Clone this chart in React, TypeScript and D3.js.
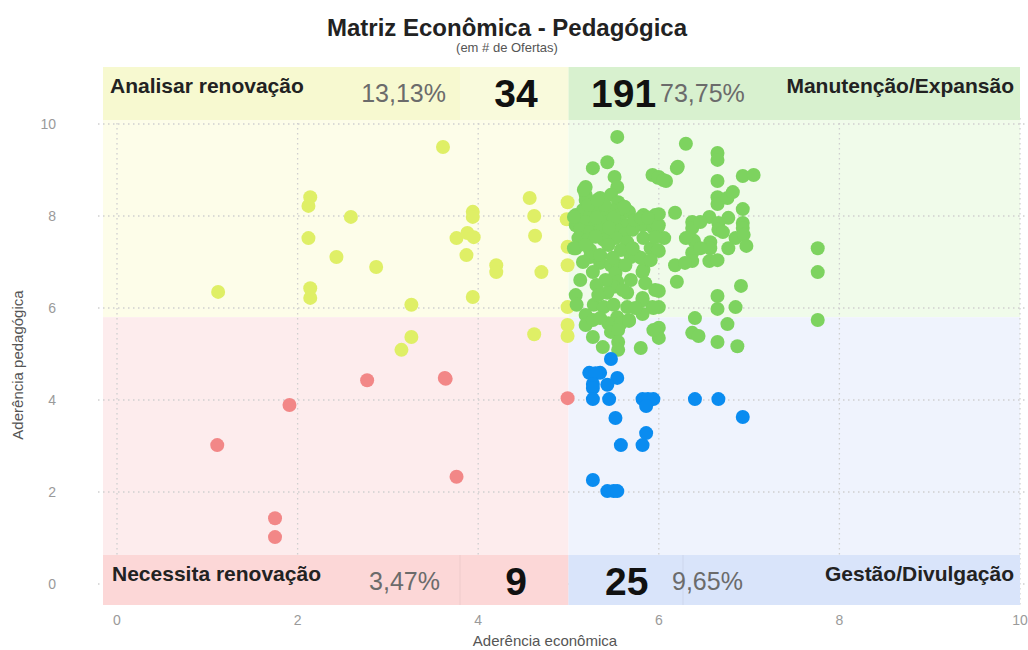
import * as d3 from 'd3'
import { useEffect, useRef } from 'react'

// eixos
const xTicks = [0, 2, 4, 6, 8, 10]
const yTicks = [0, 2, 4, 6, 8, 10]
const cutX = 5
const cutY = 5.8

// quadrantes: [nome, ofertas, percentual]
const quadrantNames = ['Analisar renovação', 'Manutenção/Expansão', 'Necessita renovação', 'Gestão/Divulgação']
const quadrantCounts = [34, 191, 9, 25]
const quadrantShares = ['13,13%', '73,75%', '3,47%', '9,65%']

// [aderência econômica, aderência pedagógica]
const analisarPts = [
    [2.14, 8.41], [2.12, 8.22], [2.59, 7.98], [2.12, 7.52], [2.43, 7.11], [2.87, 6.89],
    [1.12, 6.35], [2.14, 6.43], [2.14, 6.22], [3.61, 9.5], [3.94, 8.09], [3.94, 7.98],
    [3.76, 7.52], [3.88, 7.63], [3.95, 7.54], [3.87, 7.15], [4.2, 6.93], [4.2, 6.78],
    [3.26, 6.07], [3.94, 6.24], [4.57, 8.39], [4.62, 8.0], [4.63, 7.57], [4.7, 6.78],
    [4.99, 8.3], [4.98, 7.93], [4.99, 7.33], [4.99, 6.93], [4.99, 6.02], [3.26, 5.37],
    [3.15, 5.09], [4.62, 5.43], [4.99, 5.63], [4.99, 5.39],
]

const manutencaoPts = [
    [6.3, 9.57], [6.65, 9.37], [6.65, 9.22], [6.2, 9.04], [6.0, 8.85], [6.08, 8.76], [6.65, 8.76],
    [6.93, 8.87], [7.05, 8.89], [6.65, 8.41], [6.65, 8.26], [6.76, 8.39], [6.82, 8.52], [6.0, 8.04],
    [6.18, 8.07], [6.93, 8.15], [6.56, 7.98], [6.77, 7.96], [6.37, 7.87], [6.37, 7.74], [6.93, 7.85],
    [6.93, 7.74], [6.66, 7.85], [6.66, 7.7], [6.71, 7.65], [6.0, 7.8], [6.06, 7.52], [6.39, 7.46],
    [6.85, 7.52], [6.94, 7.59], [6.57, 7.43], [6.57, 7.3], [6.77, 7.3], [6.97, 7.35], [6.0, 7.24],
    [6.37, 7.2], [6.37, 7.02], [6.18, 6.93], [6.29, 6.98], [6.56, 7.02], [6.65, 7.04], [7.76, 7.3],
    [7.76, 6.78], [6.2, 6.57], [6.91, 6.48], [6.0, 6.37], [6.65, 6.26], [6.0, 6.02], [6.65, 5.98],
    [6.85, 6.02], [6.4, 5.78], [6.76, 5.65], [7.76, 5.74], [6.0, 5.57], [6.0, 5.35], [6.37, 5.46],
    [6.44, 5.39], [6.65, 5.26], [6.87, 5.17], [5.54, 9.72], [5.43, 9.17], [5.27, 9.04], [5.51, 8.85],
    [5.19, 8.63], [5.19, 8.46], [5.19, 8.35], [5.54, 8.63], [5.93, 8.89], [5.99, 8.83], [5.35, 8.39],
    [5.47, 8.46], [5.55, 8.3], [5.08, 8.02], [5.08, 7.8], [5.83, 8.02], [5.96, 8.02], [5.82, 7.8],
    [5.94, 7.74], [5.16, 8.13], [5.24, 8.02], [5.33, 8.13], [5.41, 8.02], [5.49, 8.13], [5.58, 8.02],
    [5.67, 8.09], [5.19, 7.87], [5.3, 7.8], [5.39, 7.87], [5.48, 7.78], [5.57, 7.87], [5.65, 7.8],
    [5.13, 7.7], [5.24, 7.65], [5.35, 7.7], [5.44, 7.61], [5.53, 7.7], [5.62, 7.61], [5.71, 7.7],
    [5.31, 7.96], [5.5, 7.96], [5.11, 7.52], [5.73, 7.91], [5.4, 8.24], [5.59, 8.17], [5.21, 7.48],
    [5.39, 7.48], [5.52, 7.52], [5.65, 7.43], [5.83, 7.52], [5.08, 7.3], [5.24, 7.26], [5.24, 7.11],
    [5.69, 7.11], [5.74, 7.15], [5.91, 7.3], [5.35, 6.98], [5.47, 6.93], [5.55, 6.93], [5.83, 6.83],
    [5.27, 6.78], [5.52, 6.76], [5.54, 6.57], [5.5, 6.46], [5.43, 6.33], [5.65, 6.33], [5.08, 6.28],
    [5.82, 6.22], [5.96, 6.39], [5.28, 6.07], [5.39, 6.02], [5.5, 6.07], [5.65, 6.02], [5.93, 6.02],
    [5.19, 5.85], [5.54, 5.8], [5.82, 5.87], [5.44, 5.67], [5.58, 5.67], [5.67, 5.72], [5.19, 5.63],
    [5.94, 5.52], [5.47, 5.48], [5.55, 5.52], [5.27, 5.37], [5.38, 5.15], [5.55, 5.26], [5.55, 5.09],
    [5.8, 5.13], [5.8, 7.96], [5.88, 7.96], [5.99, 7.76], [5.96, 7.54], [5.99, 7.26], [5.8, 7.09],
    [5.82, 6.78], [5.06, 7.98], [5.06, 7.3], [5.17, 8.57], [5.82, 6.17], [5.94, 6.0], [5.67, 5.74],
    [5.27, 5.74], [6.21, 9.07], [6.05, 8.78], [5.22, 8.24], [5.32, 8.35], [5.44, 7.37], [5.58, 7.26],
    [5.35, 7.15], [5.49, 7.09], [5.63, 6.93], [5.16, 7.0], [5.41, 6.61], [5.31, 6.5], [5.69, 6.61],
    [5.13, 6.61], [5.19, 7.37], [5.71, 7.3], [5.6, 6.39], [5.33, 6.28], [5.74, 6.0], [5.35, 5.78],
    [5.09, 6.07], [5.85, 6.54], [5.91, 7.04], [6.46, 7.3], [6.46, 7.87], [6.3, 7.52], [5.62, 8.2],
    [5.45, 7.75], [5.3, 7.55],
]

const necessitaPts = [
    [1.11, 3.02], [1.91, 3.89], [1.75, 1.43], [1.75, 1.02], [2.77, 4.43],
    [3.63, 4.48], [3.64, 4.46], [3.76, 2.33], [4.99, 4.04],
]

const gestaoPts = [
    [5.47, 4.89], [5.23, 4.59], [5.35, 4.59], [5.3, 4.58], [5.27, 4.35], [5.27, 4.26], [5.54, 4.48],
    [5.43, 4.33], [5.27, 4.02], [5.45, 4.02], [5.82, 4.02], [5.88, 4.02], [5.94, 4.02], [5.86, 3.87],
    [6.4, 4.02], [6.66, 4.02], [6.93, 3.63], [5.52, 3.61], [5.86, 3.28], [5.58, 3.02], [5.82, 3.02],
    [5.27, 2.26], [5.43, 2.02], [5.5, 2.02], [5.54, 2.02],
]

const FONT = "'Liberation Sans', Arial, sans-serif"

function App() {
    const svgRef = useRef(null)

    useEffect(() => {
        const svg = d3.select(svgRef.current)
        svg.selectAll('*').remove()

        const x = d3.scaleLinear().domain([0, 10]).range([117, 1020])
        const y = d3.scaleLinear().domain([0, 10]).range([584, 124])

        const left = x(0) - 14
        const right = x(10)
        const top = 67
        const bottom = 605
        const midX = x(cutX)
        const midY = y(cutY)

        // fundos dos quadrantes
        const bg = svg.append('g')
        bg.append('rect').attr('x', left).attr('y', top).attr('width', midX - left).attr('height', midY - top).attr('fill', '#fdfde9')
        bg.append('rect').attr('x', midX).attr('y', top).attr('width', right - midX).attr('height', midY - top).attr('fill', '#f0fbea')
        bg.append('rect').attr('x', left).attr('y', midY).attr('width', midX - left).attr('height', bottom - midY).attr('fill', '#fdeced')
        bg.append('rect').attr('x', midX).attr('y', midY).attr('width', right - midX).attr('height', bottom - midY).attr('fill', '#eff3fd')

        // grade pontilhada
        const grid = svg.append('g').attr('stroke', '#cfcfcf').attr('stroke-width', 1.3).attr('stroke-dasharray', '1.5,3.5')
        grid.selectAll('line.h')
            .data(yTicks)
            .enter()
            .append('line')
            .attr('x1', 98)
            .attr('x2', 1026)
            .attr('y1', (d) => y(d))
            .attr('y2', (d) => y(d))
        grid.selectAll('line.v')
            .data(xTicks)
            .enter()
            .append('line')
            .attr('x1', (d) => x(d))
            .attr('x2', (d) => x(d))
            .attr('y1', 118)
            .attr('y2', 606)

        // faixas de cabeçalho
        const bandTop = [67, 120]
        const bandBottom = [555, 605]
        const bands = svg.append('g')
        bands.append('rect').attr('x', left).attr('y', bandTop[0]).attr('width', midX - left).attr('height', bandTop[1] - bandTop[0]).attr('fill', '#f7f9d0')
        bands.append('rect').attr('x', midX).attr('y', bandTop[0]).attr('width', right - midX).attr('height', bandTop[1] - bandTop[0]).attr('fill', '#d8f1cf')
        bands.append('rect').attr('x', left).attr('y', bandBottom[0]).attr('width', midX - left).attr('height', bandBottom[1] - bandBottom[0]).attr('fill', '#fcd7d7')
        bands.append('rect').attr('x', midX).attr('y', bandBottom[0]).attr('width', right - midX).attr('height', bandBottom[1] - bandBottom[0]).attr('fill', '#d9e4fa')
        bands.append('rect').attr('x', 460).attr('y', bandTop[0]).attr('width', midX - 460).attr('height', bandTop[1] - bandTop[0]).attr('fill', '#ffffff').attr('opacity', 0.25)
        bands.append('line').attr('x1', 460).attr('x2', 460).attr('y1', bandBottom[0]).attr('y2', bandBottom[1]).attr('stroke', 'rgba(0,0,0,0.06)')
        bands.append('line').attr('x1', 683).attr('x2', 683).attr('y1', bandBottom[0]).attr('y2', bandBottom[1]).attr('stroke', 'rgba(0,0,0,0.06)')

        // textos das faixas
        const label = (tx, ty, txt, anchor, size, weight, color) =>
            svg.append('text')
                .attr('x', tx)
                .attr('y', ty)
                .attr('text-anchor', anchor)
                .attr('font-family', FONT)
                .attr('font-size', size)
                .attr('font-weight', weight)
                .attr('fill', color)
                .text(txt)

        label(110, 93, quadrantNames[0], 'start', 21, 'bold', '#222')
        label(446, 102, quadrantShares[0], 'end', 25, 'normal', '#6b6b6b')
        label(516, 107, quadrantCounts[0], 'middle', 39, 'bold', '#111')
        label(591, 107, quadrantCounts[1], 'start', 39, 'bold', '#111')
        label(660, 102, quadrantShares[1], 'start', 25, 'normal', '#6b6b6b')
        label(1014, 93, quadrantNames[1], 'end', 21, 'bold', '#222')

        label(112, 581, quadrantNames[2], 'start', 21, 'bold', '#222')
        label(440, 590, quadrantShares[2], 'end', 25, 'normal', '#6b6b6b')
        label(516, 595, quadrantCounts[2], 'middle', 39, 'bold', '#111')
        label(605, 595, quadrantCounts[3], 'start', 39, 'bold', '#111')
        label(672, 590, quadrantShares[3], 'start', 25, 'normal', '#6b6b6b')
        label(1014, 581, quadrantNames[3], 'end', 21, 'bold', '#222')

        // pontos
        const groups = [
            { pts: analisarPts, color: '#dfef66' },
            { pts: manutencaoPts, color: '#7dd35f' },
            { pts: gestaoPts, color: '#0a8cf0' },
            { pts: necessitaPts, color: '#f28787' },
        ]
        groups.forEach((g) => {
            svg.append('g')
                .selectAll('circle')
                .data(g.pts)
                .enter()
                .append('circle')
                .attr('cx', (d) => x(d[0]))
                .attr('cy', (d) => y(d[1]))
                .attr('r', 7)
                .attr('fill', g.color)
        })

        // rótulos dos eixos
        const ticksY = svg.append('g')
        ticksY.selectAll('text')
            .data(yTicks)
            .enter()
            .append('text')
            .attr('x', 56)
            .attr('y', (d) => y(d) + 5)
            .attr('text-anchor', 'end')
            .attr('font-family', FONT)
            .attr('font-size', 14)
            .attr('fill', '#9a9a9a')
            .text((d) => d)

        const ticksX = svg.append('g')
        ticksX.selectAll('text')
            .data(xTicks)
            .enter()
            .append('text')
            .attr('x', (d) => x(d))
            .attr('y', 625)
            .attr('text-anchor', 'middle')
            .attr('font-family', FONT)
            .attr('font-size', 14)
            .attr('fill', '#9a9a9a')
            .text((d) => d)

        label(545, 646, 'Aderência econômica', 'middle', 15, 'normal', '#555')
        svg.append('text')
            .attr('transform', 'translate(23, 365) rotate(-90)')
            .attr('text-anchor', 'middle')
            .attr('font-family', FONT)
            .attr('font-size', 15)
            .attr('fill', '#555')
            .text('Aderência pedagógica')

        // título
        label(507, 36, 'Matriz Econômica - Pedagógica', 'middle', 24, 'bold', '#222')
        label(507, 52, '(em # de Ofertas)', 'middle', 13, 'normal', '#555')
    }, [])

    return (
        <svg
            ref={svgRef}
            width={1028}
            height={650}
            style={{ position: 'absolute', left: 0, top: 0, background: '#fff' }}
        />
    )
}

export default App
